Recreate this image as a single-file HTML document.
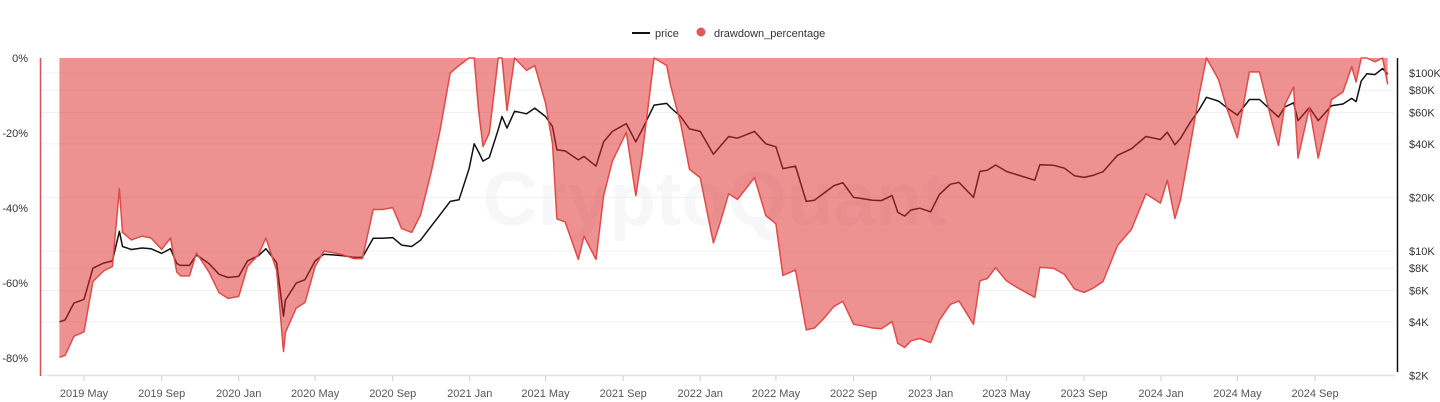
<!DOCTYPE html>
<html><head><meta charset="utf-8"><style>
html,body{margin:0;padding:0;background:#fff;}
svg{display:block;font-family:"Liberation Sans",sans-serif;}
</style></head><body>
<svg id="chart" width="1440" height="402" viewBox="0 0 1440 402">
  <text x="715" y="225" text-anchor="middle" font-size="76" font-weight="bold" fill="#e6e7f0" opacity="0.3">CryptoQuant</text>
  <g id="grid"></g>
  <g id="series"></g>
  <g id="axes"></g>
  <g>
    <g>
      <line x1="632" y1="33" x2="650" y2="33" stroke="#111" stroke-width="2"/>
      <text x="655" y="37" font-size="11" fill="#333">price</text>
    </g>
    <g>
      <circle cx="701" cy="32" r="4.5" fill="#e05a5a"/>
      <text x="714" y="37" font-size="11" fill="#333">drawdown_percentage</text>
    </g>
  </g>
</svg>
<script>
const dates = ["2019-03-23","2019-04-01","2019-04-15","2019-05-01","2019-05-15","2019-06-01","2019-06-15","2019-06-26","2019-07-01","2019-07-15","2019-08-01","2019-08-15","2019-09-01","2019-09-15","2019-09-25","2019-10-01","2019-10-15","2019-10-26","2019-11-01","2019-11-15","2019-12-01","2019-12-15",
"2020-01-01","2020-01-15","2020-02-01","2020-02-13","2020-03-01","2020-03-12","2020-03-15","2020-04-01","2020-04-15","2020-05-01","2020-05-15","2020-06-01","2020-06-15","2020-07-01","2020-07-15","2020-08-01","2020-08-15","2020-09-01","2020-09-15","2020-10-01","2020-10-15","2020-11-01","2020-11-15","2020-12-01","2020-12-15","2020-12-31",
"2021-01-08","2021-01-15","2021-01-22","2021-02-01","2021-02-15","2021-02-21","2021-03-01","2021-03-13","2021-04-01","2021-04-14","2021-05-01","2021-05-12","2021-05-19","2021-06-01","2021-06-22","2021-07-01","2021-07-20","2021-08-01","2021-08-15","2021-09-06","2021-09-21","2021-10-01","2021-10-20","2021-11-09","2021-11-15","2021-12-01","2021-12-15",
"2022-01-01","2022-01-22","2022-02-01","2022-02-15","2022-03-01","2022-03-28","2022-04-15","2022-05-01","2022-05-12","2022-06-01","2022-06-18","2022-07-01","2022-07-15","2022-08-01","2022-08-15","2022-09-01","2022-09-15","2022-10-01","2022-10-15","2022-11-01","2022-11-10","2022-11-21","2022-12-01","2022-12-15",
"2023-01-01","2023-01-15","2023-02-01","2023-02-15","2023-03-10","2023-03-20","2023-04-01","2023-04-14","2023-05-01","2023-05-15","2023-06-15","2023-06-23","2023-07-15","2023-08-01","2023-08-17","2023-09-01","2023-09-15","2023-10-01","2023-10-24","2023-11-15","2023-12-08","2023-12-31",
"2024-01-11","2024-01-23","2024-02-01","2024-02-15","2024-03-01","2024-03-13","2024-04-01","2024-04-15","2024-05-01","2024-05-20","2024-06-05","2024-06-25","2024-07-05","2024-07-15","2024-07-29","2024-08-05","2024-08-23","2024-09-06","2024-09-27","2024-10-15","2024-10-29","2024-11-05","2024-11-13","2024-11-22","2024-12-05","2024-12-17","2024-12-25"];
const priceValues = [4000,4100,5100,5350,8000,8550,8800,12900,10600,10200,10400,10300,9700,10300,8500,8300,8300,9500,9200,8500,7400,7100,
7200,8800,9400,10300,8600,4300,5300,6600,6900,8800,9600,9500,9400,9200,9200,11800,11800,11900,10800,10600,11500,13800,16000,19000,19400,29000,
40000,36000,32000,33500,48000,57000,49000,61000,59000,63500,57000,50000,37000,36500,32500,34000,30000,41000,47000,52000,41000,48000,66000,67500,64000,57000,48500,
47000,35000,38500,44000,43000,47000,40000,38500,29000,30000,19000,19300,21000,23300,24200,20000,19700,19300,19200,20500,16500,15700,17000,17400,
16600,20800,23700,24300,20000,28000,28400,30400,28000,27000,25000,30500,30300,29200,26500,25900,26600,27900,34500,37500,44000,42300,
46500,39500,43000,52000,62000,73000,69500,63500,58000,71000,71000,61000,56500,64500,68000,54000,64000,54000,65500,67000,72000,69000,90000,99000,98000,106000,98500];
const drawdownValues = [-79.8,-79.3,-74.2,-73,-59.6,-56.8,-55.6,-34.8,-46.5,-48.5,-47.5,-48,-51,-48,-57.1,-58.1,-58.1,-52,-53.5,-57.1,-62.6,-64.1,
-63.6,-55.6,-52.5,-48,-56.6,-78.3,-73.2,-66.7,-65.2,-55.6,-51.5,-52,-52.5,-53.5,-53.5,-40.4,-40.4,-39.9,-45.5,-46.5,-41.9,-30.3,-19.2,-4,-2,0,
0,-14,-23.6,-20,0,0,-14,0,-3.3,-2,-12,-22.8,-42.9,-43.7,-53.7,-47.5,-53.7,-36.7,-27.5,-19.8,-36.7,-25.9,0,-2,-7.2,-17.4,-29.7,
-31.9,-49.3,-44.2,-36.2,-37.7,-31.9,-42,-44.2,-58,-56.5,-72.5,-72,-69.6,-66.2,-64.9,-71,-71.4,-72,-72.2,-70.3,-76.1,-77.2,-75.4,-74.8,
-75.9,-69.9,-65.7,-64.8,-71,-59.4,-58.8,-55.9,-59.4,-60.9,-63.8,-55.8,-56.1,-57.7,-61.6,-62.5,-61.4,-59.6,-50,-45.7,-36.2,-38.7,
-32.6,-42.8,-37.7,-24.6,-10.1,0,-5.7,-13.8,-21.3,-3.7,-3.7,-17.2,-23.3,-12.5,-7.7,-26.7,-13.2,-26.7,-11.1,-9.1,-2.3,-6.4,0,0,-1,0,-7];
const leftTicks = [0,-20,-40,-60,-80];
const rightTicks = [100000,80000,60000,40000,20000,10000,8000,6000,4000,2000];
const rightTickLabels = ["$100K","$80K","$60K","$40K","$20K","$10K","$8K","$6K","$4K","$2K"];
const xTickDates = ["2019-05-01","2019-09-01","2020-01-01","2020-05-01","2020-09-01","2021-01-01","2021-05-01","2021-09-01","2022-01-01","2022-05-01","2022-09-01","2023-01-01","2023-05-01","2023-09-01","2024-01-01","2024-05-01","2024-09-01"];
const xTickLabels = ["2019 May","2019 Sep","2020 Jan","2020 May","2020 Sep","2021 Jan","2021 May","2021 Sep","2022 Jan","2022 May","2022 Sep","2023 Jan","2023 May","2023 Sep","2024 Jan","2024 May","2024 Sep"];

const NS="http://www.w3.org/2000/svg";
const base=Date.UTC(2019,3,1);
function xS(d){const t=Date.parse(d+"T00:00:00Z");return 65.1+(t-base)/86400000*0.6313;}
function yL(v){return 58-v*3.75;}
function yR(p){return 251-(Math.log10(p)-4)*178;}
function mk(tag,attrs,parent){const e=document.createElementNS(NS,tag);for(const k in attrs)e.setAttribute(k,attrs[k]);parent.appendChild(e);return e;}
const grid=document.getElementById('grid'),series=document.getElementById('series'),axes=document.getElementById('axes');

rightTicks.forEach((p,i)=>{
  const y=yR(p);
  const gl=mk('line',{x1:40,x2:1395,y1:y,y2:y,stroke:'#f0f0f0','stroke-width':1},grid);
  
  
  const t=mk('text',{x:1409,y:y+4,'font-size':11,fill:'#333'},axes);
  t.textContent=rightTickLabels[i];
  
  
});
leftTicks.forEach(v=>{
  const t=mk('text',{x:28,y:yL(v)+4,'font-size':11,fill:'#333','text-anchor':'end'},axes);
  t.textContent=v+'%';
  
  
});
xTickDates.forEach((d,i)=>{
  const x=xS(d);
  const tk=mk('line',{x1:x,x2:x,y1:375,y2:381,stroke:'#ccc'},axes);
  
  
  const t=mk('text',{x:x,y:397,'font-size':11,fill:'#555','text-anchor':'middle'},axes);
  t.textContent=xTickLabels[i];
  
  
});
const xb=mk('line',{x1:47,x2:1395,y1:375.5,y2:375.5,stroke:'#e3e3e3','stroke-width':1.5},axes);


const la=mk('line',{x1:40.5,x2:40.5,y1:58,y2:376,stroke:'#e05050','stroke-width':1.5},axes);


const ra=mk('line',{x1:1397.5,x2:1397.5,y1:58,y2:372,stroke:'#111','stroke-width':1.5},axes);



let pp='';dates.forEach((d,i)=>{pp+=(i?'L':'M')+xS(d).toFixed(1)+','+yR(priceValues[i]).toFixed(1);});
const pl=mk('path',{d:pp,fill:'none',stroke:'#111','stroke-width':1.5,'stroke-linejoin':'round'},series);



let dp='';dates.forEach((d,i)=>{dp+=(i?'L':'M')+xS(d).toFixed(1)+','+yL(drawdownValues[i]).toFixed(1);});
const x0=xS(dates[0]).toFixed(1),x1=xS(dates[dates.length-1]).toFixed(1);
const ar=mk('path',{d:dp+'L'+x1+','+yL(0)+'L'+x0+','+yL(0)+'Z',fill:'rgba(221,45,45,0.52)',stroke:'none'},series);


const dl=mk('path',{d:dp,fill:'none',stroke:'#e24a4a','stroke-width':1.5,'stroke-linejoin':'round'},series);


</script>
</body></html>
